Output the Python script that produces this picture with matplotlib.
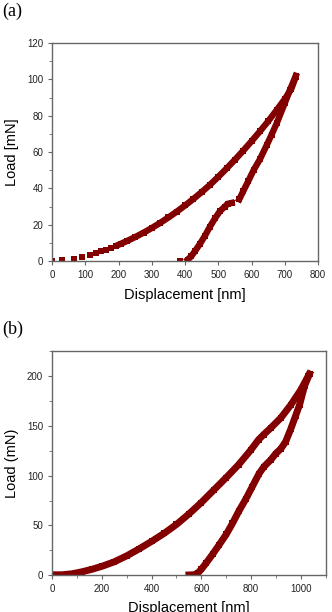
import matplotlib
matplotlib.use("Agg")
import matplotlib.pyplot as plt
from matplotlib.ticker import MultipleLocator

plt.rcParams['font.family'] = ['Liberation Sans', 'DejaVu Sans']

# panel (a): loading and unloading, displacement [nm] vs load [mN]
a_load_x = [0, 30, 65, 90, 113, 133, 148, 163, 178, 193, 208, 225, 250, 275, 300, 325, 350,
            375, 400, 425, 450, 475, 500, 525, 550, 575, 600, 625, 650, 675, 700, 720, 733]
a_load_y = [0.2, 0.5, 1.2, 2.3, 3.2, 4.3, 5.3, 6.3, 7.3, 8.4, 9.6, 11, 13.2, 15.6, 18.2, 21, 24,
            27.2, 30.6, 34.2, 38, 42, 46.4, 51, 55.8, 60.8, 66, 71.4, 77, 83, 89.2, 95, 101.5]
a_unload1_x = [733, 715, 700, 676, 660, 646, 625, 606, 590, 575, 563]
a_unload1_y = [102, 94, 87, 76, 69.5, 64, 56, 50, 44, 38.5, 34]
a_unload2_x = [540, 528, 520, 505, 490, 475, 460, 445, 430, 418, 408]
a_unload2_y = [32, 31.5, 30, 27.5, 23.5, 19, 14, 9.5, 5.5, 2.5, 0.8]
a_stray_x = [385]
a_stray_y = [0.2]

# panel (b)
b_load_x = [0, 40, 80, 120, 160, 200, 250, 300, 350, 400, 450, 500, 550, 600, 650, 700,
            750, 800, 830, 850, 880, 920, 960, 1000, 1030]
b_load_y = [0.5, 0.5, 1.5, 3.5, 6, 9, 13.5, 19.5, 26.5, 34, 42, 51, 61.5, 73, 85.5, 98,
            111, 126, 136, 141, 148, 158, 171, 186, 200]
b_unload_x = [1035, 1015, 995, 979, 960, 939, 920, 899, 880, 852, 832, 805, 780, 750, 725,
              700, 670, 645, 620, 600, 585, 570, 550]
b_unload_y = [202, 190, 171, 160, 147, 134, 127, 122, 116, 109, 102, 89, 77, 64, 52,
              41, 30, 21, 12.5, 6, 2, 0.5, 0.3]

red = '#820000'
spine = '#666666'

fig = plt.figure(figsize=(3.32, 6.12), dpi=100)

def style(ax):
    for s in ax.spines.values():
        s.set_color(spine)
        s.set_linewidth(1.0)
    ax.tick_params(which='both', direction='out', colors=spine, labelcolor='#222222',
                   labelsize=7, top=False, right=False)
    ax.tick_params(which='major', length=3)
    ax.tick_params(which='minor', length=2)

ax1 = fig.add_axes([0.157, 0.5735, 0.801, 0.356])
ax1.plot(a_load_x[:10], a_load_y[:10], 's', color=red, ms=4, mew=0)
ax1.plot(a_load_x[9:], a_load_y[9:], '-s', color=red, lw=4.6, ms=4.5, mew=0,
         solid_joinstyle='round', solid_capstyle='butt')
ax1.plot(a_unload1_x, a_unload1_y, '-s', color=red, lw=4.6, ms=4.5, mew=0,
         solid_joinstyle='round')
ax1.plot(a_unload2_x, a_unload2_y, '-s', color=red, lw=4.6, ms=4.5, mew=0,
         solid_joinstyle='round')
ax1.plot(a_stray_x, a_stray_y, 's', color=red, ms=4, mew=0)
ax1.set_xlim(0, 800)
ax1.set_ylim(0, 120)
ax1.xaxis.set_major_locator(MultipleLocator(100))
ax1.yaxis.set_major_locator(MultipleLocator(20))
ax1.yaxis.set_minor_locator(MultipleLocator(10))
style(ax1)
ax1.set_xlabel('Displacement [nm]', fontsize=10.5, labelpad=6)
ax1.set_ylabel('Load [mN]', fontsize=10.5, labelpad=6)

ax2 = fig.add_axes([0.157, 0.06, 0.824, 0.3665])
ax2.plot(b_load_x, b_load_y, '-s', color=red, lw=5, ms=4.5, mew=0, solid_joinstyle='round')
ax2.plot(b_unload_x, b_unload_y, '-s', color=red, lw=5, ms=4.5, mew=0, solid_joinstyle='round')
ax2.set_xlim(0, 1100)
ax2.set_ylim(0, 225)
ax2.xaxis.set_major_locator(MultipleLocator(200))
ax2.xaxis.set_minor_locator(MultipleLocator(100))
ax2.yaxis.set_major_locator(MultipleLocator(50))
ax2.yaxis.set_minor_locator(MultipleLocator(25))
style(ax2)
ax2.set_xlabel('Displacement [nm]', fontsize=10.5, labelpad=5)
ax2.set_ylabel('Load (mN)', fontsize=10.5, labelpad=6)

fig.text(0.008, 0.995, '(a)', fontsize=13, family='Liberation Serif', va='top')
fig.text(0.008, 0.476, '(b)', fontsize=13, family='Liberation Serif', va='top')

fig.savefig('out.png', dpi=100)
